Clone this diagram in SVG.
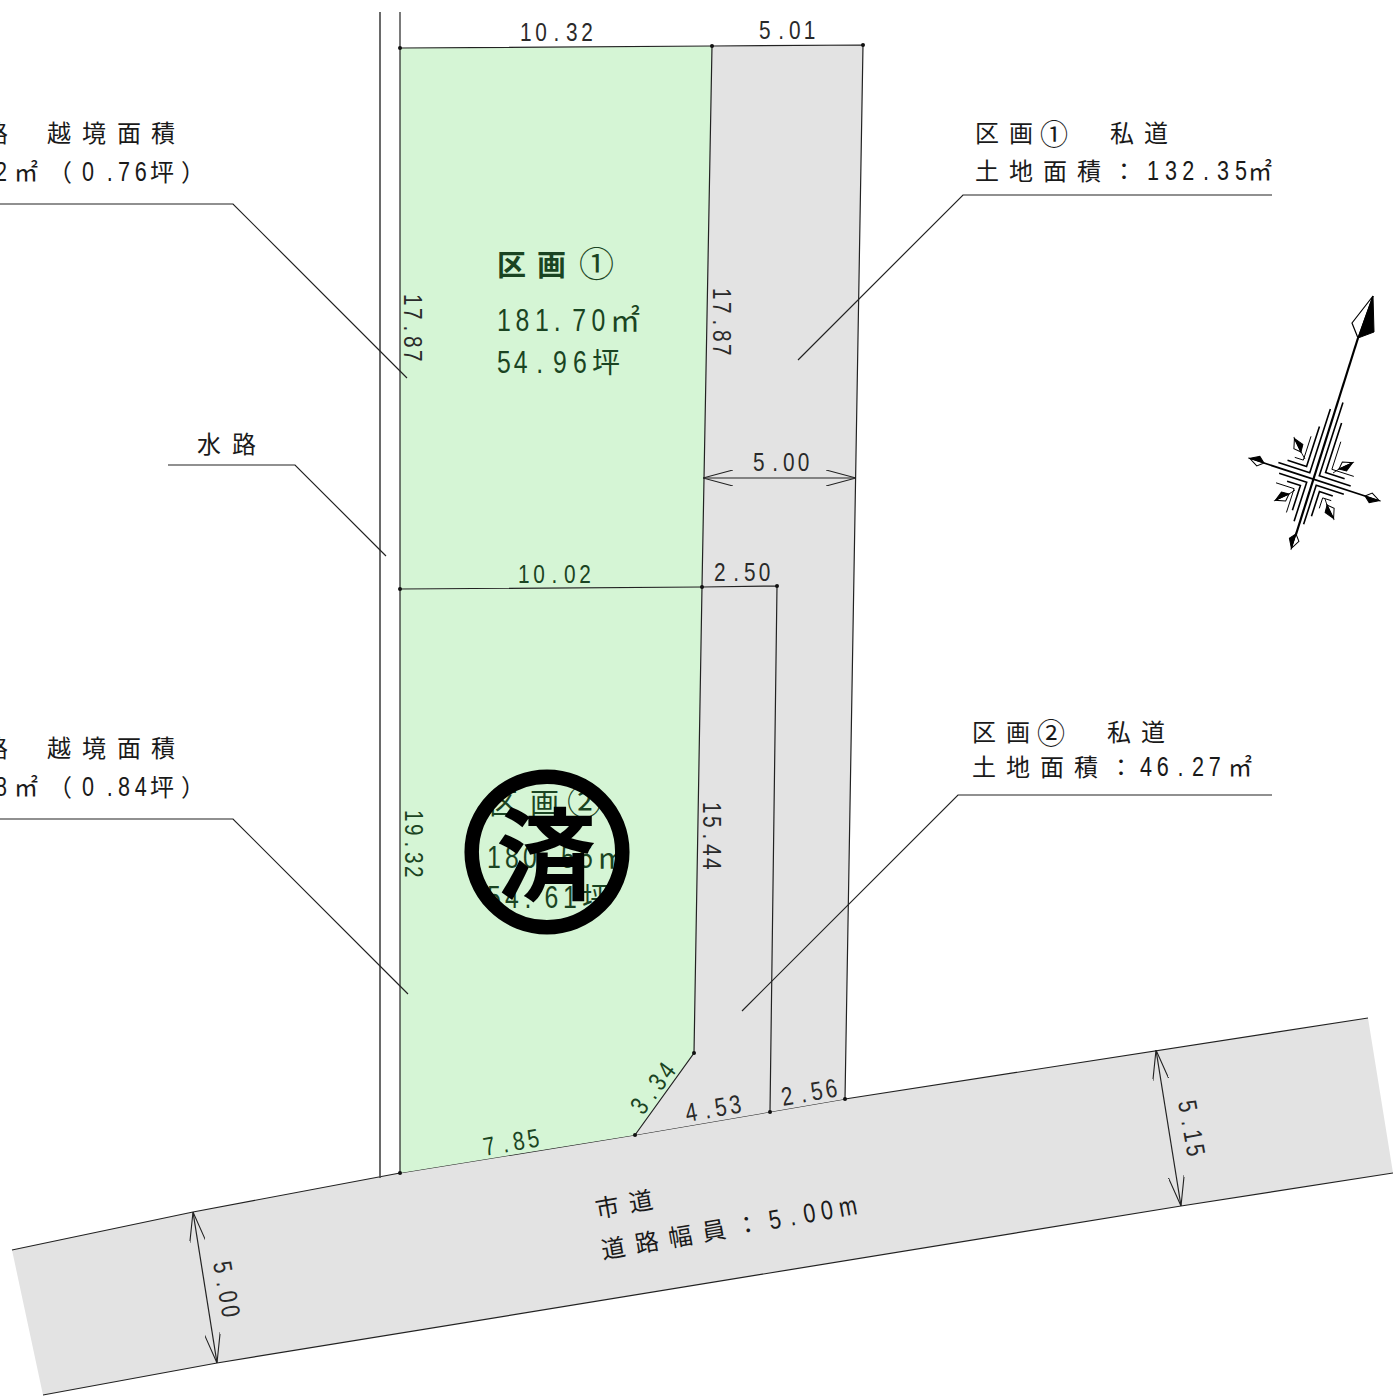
<svg xmlns="http://www.w3.org/2000/svg" xmlns:xlink="http://www.w3.org/1999/xlink" width="1393" height="1399" viewBox="0 0 1393 1399">
<style>
text{font-family:"Noto Sans CJK JP",sans-serif;fill:#1a1a1a}
.l{font-size:24px}
.n{font-family:"Liberation Sans",sans-serif;font-size:27px}
.d{font-family:"Liberation Sans",sans-serif;font-size:26px;fill:#2a2a2a}
.g{fill:#1a4422}
.gd{font-family:"Liberation Sans",sans-serif;font-size:26px;fill:#1a4422}
.gn{font-family:"Liberation Sans",sans-serif;font-size:31px;fill:#1a4422}
.ln{fill:none;stroke:#222;stroke-width:1.2}
.gl{fill:none;stroke:#444;stroke-width:1.6}
.dot{fill:#111}
.c1{stroke:#000;stroke-width:1.6;fill:none}
.c2{stroke:#000;stroke-width:.9;fill:none}
</style>
<defs>
<marker id="ah" viewBox="0 0 30 16" refX="30" refY="8" markerWidth="30" markerHeight="16" markerUnits="userSpaceOnUse" orient="auto-start-reverse"><path d="M0 0L30 8L0 16" fill="none" stroke="#222" stroke-width="1.1"/></marker>
<g id="dia"><path d="M0 0L6 -5L15 0Z" fill="#fff" stroke="#000" stroke-width="1"/><path d="M0 0L6 5L15 0Z" fill="#000" stroke="#000" stroke-width="1"/></g>
</defs>
<g id="road"><path d="M12 1250L193 1212L400 1173L635 1135L845 1099L1368 1018L1393 1173L1181 1206L217 1363L43 1395Z" fill="#e3e3e3"/><path d="M12 1250L193 1212L400 1173L635 1135L845 1099L1368 1018" fill="none" stroke="#222" stroke-width="1.2"/><path d="M43 1395L217 1363L1181 1206L1393 1173" fill="none" stroke="#222" stroke-width="1.2"/></g>
<g id="plot1"><path d="M400 48L712 46L702 587L400 589Z" fill="#d5f5d5"/></g>
<g id="plot2"><path d="M400 589L702 587L694 1053L635 1135L400 1173Z" fill="#d5f5d5"/></g>
<g id="private-road"><path d="M712 46L863 45L845 1099L635 1135L694 1053L702 587Z" fill="#e3e3e3"/></g>
<g id="connectors">
<path class="gl" d="M380 12V1178"/>
<path class="ln" d="M400 12V1173"/>
<path class="ln" d="M400 48L712 46L863 45L845 1099"/>
<path class="ln" d="M712 46L702 587L694 1053L635 1135"/>
<path class="ln" d="M400 589L702 587L777 586L770 1112"/>
<path class="ln" d="M0 204H233L407 378"/>
<path class="ln" d="M168 465H295L386 556"/>
<path class="ln" d="M0 819H233L408 994"/>
<path class="ln" d="M1272 195H963L798 360"/>
<path class="ln" d="M1272 795H958L742 1011"/>
<path class="ln" d="M703 478H856" marker-start="url(#ah)" marker-end="url(#ah)"/>
<path class="ln" d="M1156 1050L1181 1206" marker-start="url(#ah)" marker-end="url(#ah)"/>
<path class="ln" d="M193 1212L217 1363" marker-start="url(#ah)" marker-end="url(#ah)"/>
</g>
<g id="points" class="dot">
<circle cx="400" cy="48" r="2"/><circle cx="712" cy="46" r="2"/><circle cx="863" cy="45" r="2"/><circle cx="400" cy="589" r="2"/><circle cx="702" cy="587" r="2"/><circle cx="777" cy="586" r="2"/><circle cx="694" cy="1053" r="2"/><circle cx="635" cy="1135" r="2"/><circle cx="770" cy="1112" r="2"/><circle cx="845" cy="1099" r="2"/><circle cx="400" cy="1173" r="2"/>
</g>
<g id="dimensions">
<text class="d" transform="translate(520 41) scale(.8 1)" x="0 19.1 42 57.5 76.5">10.32</text>
<text class="d" transform="translate(759 39) scale(.8 1)" x="0 24 37.5 56">5.01</text>
<text class="d" transform="translate(404 294) rotate(90) scale(.8 1)" x="0 17.5 39.5 52.5 70">17.87</text>
<text class="d" transform="translate(713 288) rotate(90) scale(.8 1)" x="0 17.5 39.5 52.5 70">17.87</text>
<text class="d" transform="translate(753 471) scale(.8 1)" x="0 24 37.5 56">5.00</text>
<text class="gd" transform="translate(518 583) scale(.8 1)" x="0 19.1 42 57.5 76.5">10.02</text>
<text class="d" transform="translate(714 581) scale(.8 1)" x="0 24 37.5 56">2.50</text>
<text class="gd" transform="translate(405 810) rotate(90) scale(.8 1)" x="0 17.5 39.5 52.5 70">19.32</text>
<text class="d" transform="translate(703 802) rotate(90) scale(.8 1)" x="0 17.5 39.5 52.5 70">15.44</text>
<text class="gd" transform="translate(643 1116) rotate(-53) scale(.8 1)" x="0 24 37.5 56">3.34</text>
<text class="gd" transform="translate(485 1156) rotate(-10) scale(.8 1)" x="0 24 37.5 56">7.85</text>
<text class="d" transform="translate(687 1122) rotate(-10) scale(.8 1)" x="0 24 37.5 56">4.53</text>
<text class="d" transform="translate(783 1106) rotate(-10) scale(.8 1)" x="0 24 37.5 56">2.56</text>
<text class="d" transform="translate(1178 1102) rotate(80) scale(.8 1)" x="0 24 37.5 56">5.15</text>
<text class="d" transform="translate(213 1263) rotate(80) scale(.8 1)" x="0 24 37.5 56">5.00</text>
</g>
<g id="label-plot1">
<text class="g" x="497 537" y="276" style="font-size:29px;font-weight:700">区画</text>
<text class="g" x="579" y="277" style="font-size:35px">①</text>
<text class="gn" transform="translate(497 331) scale(.8 1)" x="0 23 47.5 71 94 118">181.70</text>
<text class="g" x="610" y="331" style="font-size:30px">㎡</text>
<text class="gn" transform="translate(497 373) scale(.8 1)" x="0 21 49 70 95">54.96</text>
<text class="g" x="592" y="373" style="font-size:28px">坪</text>
</g>
<g id="label-plot2">
<text class="g" x="489 530" y="814" style="font-size:29px">区画</text>
<text class="g" x="567" y="815" style="font-size:35px">②</text>
<text class="gn" transform="translate(487 868) scale(.8 1)" x="0 22.5 45 70 92.5 115">180.55</text>
<text class="g" x="597" y="868" style="font-size:30px">㎡</text>
<text class="gn" transform="translate(487 908) scale(.8 1)" x="0 22.5 47 72 95">54.61</text>
<text class="g" x="582" y="908" style="font-size:28px">坪</text>
</g>
<g id="sold-stamp">
<circle cx="547" cy="852" r="75.3" fill="none" stroke="#000" stroke-width="14.5"/>
<text x="496" y="892" style="font-size:100px;font-weight:700;fill:#000">済</text>
</g>
<g id="label-encroach1">
<text class="l" x="-16 47 82 117 151" y="142">路越境面積</text>
<text class="n" transform="translate(-5 181) scale(.8 1)">2</text>
<text class="l" x="14" y="181">㎡</text>
<text class="l" x="48" y="181">（</text>
<text class="n" transform="translate(82 181) scale(.8 1)" x="0 31 45 66">0.76</text>
<text class="l" x="150" y="181">坪</text>
<text class="l" x="181" y="181">）</text>
</g>
<g id="label-water"><text class="l" x="197 232" y="453">水路</text></g>
<g id="label-encroach2">
<text class="l" x="-16 47 82 117 151" y="757">路越境面積</text>
<text class="n" transform="translate(-5 796) scale(.8 1)">8</text>
<text class="l" x="14" y="796">㎡</text>
<text class="l" x="48" y="796">（</text>
<text class="n" transform="translate(82 796) scale(.8 1)" x="0 31 45 66">0.84</text>
<text class="l" x="150" y="796">坪</text>
<text class="l" x="181" y="796">）</text>
</g>
<g id="label-private1">
<text class="l" x="975 1009" y="142">区画</text>
<text x="1040" y="145" style="font-size:28px">①</text>
<text class="l" x="1110 1144" y="142">私道</text>
<text class="l" x="975 1009 1043 1077 1112" y="180">土地面積：</text>
<text class="n" transform="translate(1147 180) scale(.8 1)" x="0 22.5 44 70 87.5 110">132.35</text>
<text class="l" x="1248" y="180">㎡</text>
</g>
<g id="label-private2">
<text class="l" x="972 1006" y="741">区画</text>
<text x="1037" y="744" style="font-size:28px">②</text>
<text class="l" x="1107 1141" y="741">私道</text>
<text class="l" x="972 1006 1040 1074 1109" y="776">土地面積：</text>
<text class="n" transform="translate(1140 776) scale(.8 1)" x="0 21 47 65 86">46.27</text>
<text class="l" x="1228" y="776">㎡</text>
</g>
<g id="label-city-road">
<text class="l" transform="translate(597 1218) rotate(-10)" x="0 34">市道</text>
<text class="l" transform="translate(603 1259) rotate(-10)" x="0 34 68 102 136">道路幅員：</text>
<text class="n" transform="translate(603 1259) rotate(-10) translate(170 0) scale(.8 1)" x="0 26 44 66 89">5.00m</text>
</g>
<g id="compass">
<path d="M1358 338L1292 547" stroke="#000" stroke-width="2.2" fill="none"/>
<path d="M1264 463L1365 496" stroke="#000" stroke-width="1.8" fill="none"/>
<path d="M1373 296L1352 323L1358 338Z" fill="#fff" stroke="#000" stroke-width="1.2"/>
<path d="M1373 296L1374 332L1358 338Z" fill="#000" stroke="#000"/>
<g transform="translate(1313 479) rotate(17.9)">
<path class="c1" d="M-5 -72V-5H-38M5 -82V-5H38M-5 46V5H-34M5 46V5H34"/>
<path class="c1" d="M-10 -52V-10H-30M10 -62V-10H30M-10 36V10H-24M10 36V10H24"/>
<path class="c2" d="M-15 -40V-15H-24M15 -44V-15H38M-15 40V15H-34M15 26V15H24"/>
</g>
<use xlink:href="#dia" href="#dia" transform="translate(1264 463) rotate(198)"/>
<use xlink:href="#dia" href="#dia" transform="translate(1365 496) rotate(18)"/>
<use xlink:href="#dia" href="#dia" transform="translate(1296 534) rotate(108)"/>
<use xlink:href="#dia" href="#dia" transform="translate(1301 452) rotate(244)"/>
<use xlink:href="#dia" href="#dia" transform="translate(1339 469) rotate(-25)"/>
<use xlink:href="#dia" href="#dia" transform="translate(1289 494) rotate(155)"/>
<use xlink:href="#dia" href="#dia" transform="translate(1327 505) rotate(64)"/>
<path d="M1301 452L1305 459M1339 469L1333 473M1289 494L1295 490M1327 505L1325 499" class="c2"/>
</g>
</svg>
